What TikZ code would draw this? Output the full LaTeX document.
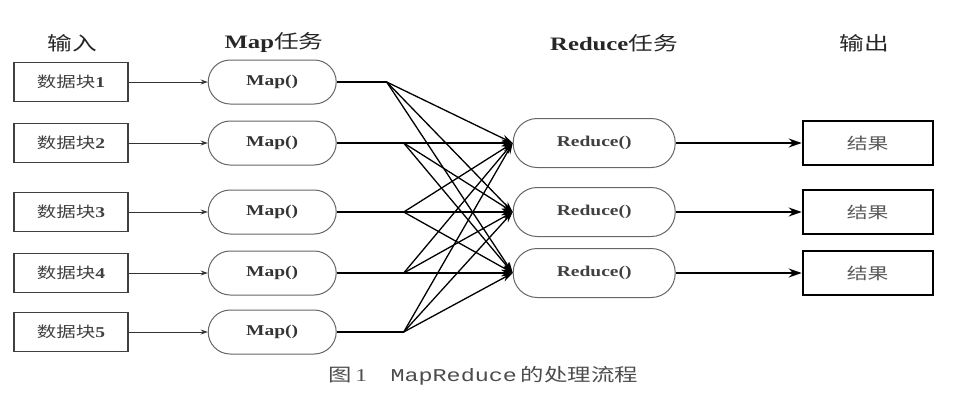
\documentclass[tikz,border=0pt]{standalone}
\usepackage{fontspec}
\setmainfont{Liberation Serif}
\setmonofont{Liberation Mono}
\newfontfamily\cjk{Noto Sans CJK SC}
\usetikzlibrary{positioning}
\usetikzlibrary{arrows.meta}
\newcommand{\wide}[1]{\scalebox{1.3}[1]{#1}}

\begin{document}
\begin{tikzpicture}[x=1pt,y=-1pt,->,>=stealth,thick]
\tikzstyle{inbox}=[draw=black!75,line width=1.4pt,minimum width=114pt,minimum height=39pt,text=black!75,font=\fontsize{15}{15}\selectfont]
\tikzstyle{mapnode}=[draw=black!60,line width=1pt,rounded corners=22pt,minimum width=128pt,minimum height=44pt,text=black!80,font=\fontsize{15}{15}\selectfont\bfseries]
\tikzstyle{rednode}=[draw=black!60,line width=1pt,rounded corners=24pt,minimum width=162pt,minimum height=49pt,text=black!75,font=\fontsize{15}{15}\selectfont\bfseries]
\tikzstyle{outbox}=[draw=black,line width=2pt,minimum width=130pt,minimum height=44pt,text=black!65,font=\fontsize{16}{16}\selectfont]
\tikzstyle{head}=[text=black!85,font=\fontsize{19}{19}\selectfont]
\tikzstyle{thin}=[line width=1pt,black!80,-{Stealth[length=7pt,width=5pt]}]
\tikzstyle{fan}=[line width=1.3pt,-{Stealth[length=11pt,width=7pt]}]
\tikzstyle{res}=[line width=1.8pt,-{Stealth[length=13pt,width=9pt]}]
\useasboundingbox (0,0) rectangle (954,400);

\node[head]	(hin)	at (72,43)	{\wide{\cjk 输入}};
\node[head]	(hmap)	at (274,43)	{\wide{\textbf{Map}\cjk 任务}};
\node[head]	(hred)	at (614,43)	{\wide{\textbf{Reduce}\cjk 任务}};
\node[head]	(hout)	at (864,43)	{\wide{\cjk 输出}};

\node[inbox]	(in1)	at (71,82)	{\wide{{\cjk 数据块}\textbf{1}}};
\node[inbox]	(in2)	at (71,143)	{\wide{{\cjk 数据块}\textbf{2}}};
\node[inbox]	(in3)	at (71,212)	{\wide{{\cjk 数据块}\textbf{3}}};
\node[inbox]	(in4)	at (71,273)	{\wide{{\cjk 数据块}\textbf{4}}};
\node[inbox]	(in5)	at (71,332)	{\wide{{\cjk 数据块}\textbf{5}}};

\node[mapnode]	(map1)	[right=79pt of in1]	{\wide{Map()}};
\node[mapnode]	(map2)	[right=79pt of in2]	{\wide{Map()}};
\node[mapnode]	(map3)	[right=79pt of in3]	{\wide{Map()}};
\node[mapnode]	(map4)	[right=79pt of in4]	{\wide{Map()}};
\node[mapnode]	(map5)	[right=79pt of in5]	{\wide{Map()}};

\node[rednode]	(red1)	[right=176pt of map2]	{\wide{Reduce()}};
\node[rednode]	(red2)	[right=176pt of map3]	{\wide{Reduce()}};
\node[rednode]	(red3)	[right=176pt of map4]	{\wide{Reduce()}};

\node[outbox]	(out1)	[right=126pt of red1]	{\wide{\cjk 结果}};
\node[outbox]	(out2)	[right=126pt of red2]	{\wide{\cjk 结果}};
\node[outbox]	(out3)	[right=126pt of red3]	{\wide{\cjk 结果}};

\coordinate	(j1)	at ([xshift=50pt]map1.east);
\coordinate	(j2)	at ([xshift=67pt]map2.east);
\coordinate	(j3)	at ([xshift=67pt]map3.east);
\coordinate	(j4)	at ([xshift=67pt]map4.east);
\coordinate	(j5)	at ([xshift=67pt]map5.east);

\node[text=black!70,font=\fontsize{18}{18}\selectfont]	(cap)	at (483,376)	{\wide{{\cjk 图}\,1\quad\texttt{MapReduce}\,{\cjk 的处理流程}}};

\path[thin](in1)	edge	(map1)
	 (in2)		edge	(map2)
	 (in3)		edge	(map3)
	 (in4)		edge	(map4)
	 (in5)		edge	(map5);
\path[fan,-](map1.east)	edge	(j1)
	 (map2.east)	edge	(j2)
	 (map3.east)	edge	(j3)
	 (map4.east)	edge	(j4)
	 (map5.east)	edge	(j5);
\path[fan](j1)	edge	(red1.west)
	 (j1)		edge	(red2.west)
	 (j1)		edge	(red3.west)
	 (j2)		edge	(red1.west)
	 (j2)		edge	(red2.west)
	 (j2)		edge	(red3.west)
	 (j3)		edge	(red1.west)
	 (j3)		edge	(red2.west)
	 (j3)		edge	(red3.west)
	 (j4)		edge	(red1.west)
	 (j4)		edge	(red2.west)
	 (j4)		edge	(red3.west)
	 (j5)		edge	(red1.west)
	 (j5)		edge	(red2.west)
	 (j5)		edge	(red3.west);
\path[res](red1)	edge	(out1)
	 (red2)		edge	(out2)
	 (red3)		edge	(out3);
\end{tikzpicture}
\end{document}
